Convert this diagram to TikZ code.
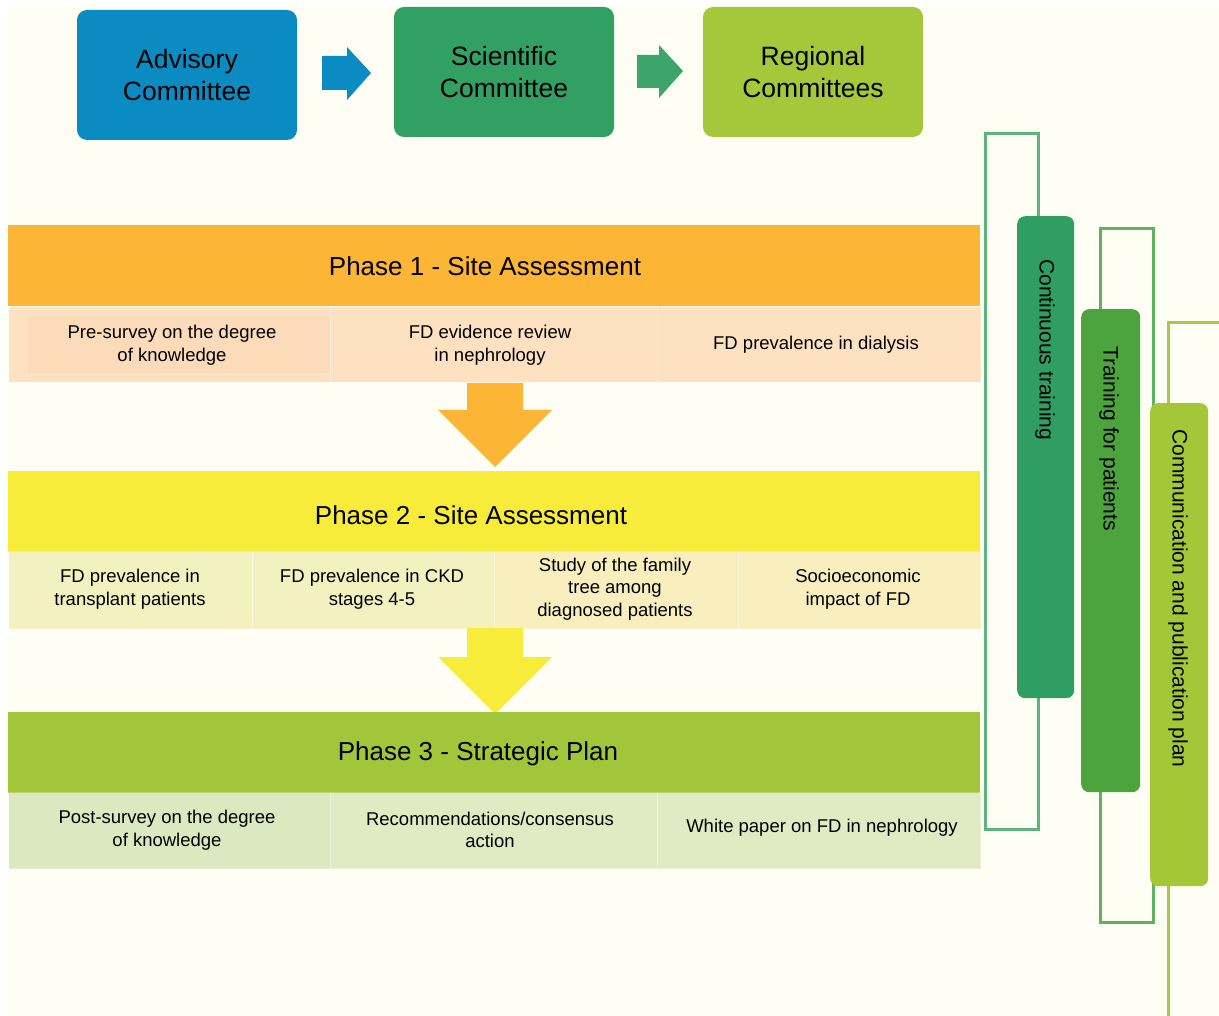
\documentclass[tikz,border=0pt]{standalone}
\usepackage{fontspec}
\setmainfont{Liberation Sans}
\definecolor{bgcream}{HTML}{FEFEF4}
\definecolor{advblue}{HTML}{0A8CC2}
\definecolor{scigreen}{HTML}{33A063}
\definecolor{reggreen}{HTML}{A5C83A}
\definecolor{pone}{HTML}{FCB535}
\definecolor{ponerow}{HTML}{FDE1C0}
\definecolor{poneinner}{HTML}{FCDBBA}
\definecolor{ptwo}{HTML}{F8EC3B}
\definecolor{ptworow}{HTML}{F4F1C0}
\definecolor{ptworowb}{HTML}{F8EEBE}
\definecolor{pthree}{HTML}{A2C63A}
\definecolor{pthreerow}{HTML}{E1EBC3}
\definecolor{pthreerowb}{HTML}{DCE8C0}
\definecolor{ctbar}{HTML}{2F9E63}
\definecolor{ctline}{HTML}{5DB47E}
\definecolor{tpbar}{HTML}{4DA43F}
\definecolor{tpline}{HTML}{5DB45E}
\definecolor{cpbar}{HTML}{A3C736}
\definecolor{cpline}{HTML}{A6CB4A}
\begin{document}
\begin{tikzpicture}[x=1pt,y=-1pt,
  committee/.style={rounded corners=10pt, inner sep=0pt, minimum width=220pt, minimum height=130pt,
     align=center, font=\fontsize{26.5}{32}\selectfont},
  header/.style={inner sep=0pt, minimum width=972pt, minimum height=81pt},
  headtext/.style={inner sep=0pt, font=\fontsize{26}{30}\selectfont},
  cell/.style={inner sep=0pt, align=center, font=\fontsize{18.5}{22.5}\selectfont},
  cellbox/.style={inner sep=0pt, draw=white, draw opacity=0.25, line width=1pt},
  bar/.style={rounded corners=8pt, inner sep=0pt},
  bartext/.style={inner sep=0pt, rotate=-90, anchor=west, font=\fontsize{21}{25}\selectfont},
  bracket/.style={line width=3pt, line join=miter, line cap=butt},
]
\useasboundingbox (0,0) rectangle (1219,1016);
\fill[white] (0,0) rectangle (1219,1016);
\fill[bgcream] (8,6) rectangle (1219,1016);

% ---------- committees ----------
\node[committee, fill=advblue] (adv) at (187,75) {Advisory\\Committee};
\node[committee, fill=scigreen] (sci) at (504,72) {Scientific\\Committee};
\node[committee, fill=reggreen] (reg) at (813,72) {Regional\\Committees};
\fill[advblue] (322,56) -- (347,56) -- (347,47) -- (371,73) -- (347,100) -- (347,90) -- (322,90) -- cycle;
\fill[scigreen!95!white] (637,55) -- (659,55) -- (659,45) -- (683,71) -- (659,98) -- (659,88) -- (637,88) -- cycle;

% ---------- phase 1 ----------
\node[header, fill=pone, anchor=north west] (ph1) at (8,225) {};
\node[headtext] (ph1t) at (485,266) {Phase 1 - Site Assessment};
\node[cellbox, fill=ponerow, minimum width=322pt, minimum height=75pt, anchor=north west] (c11) at (8,307) {};
\fill[poneinner] (28,317) rectangle (330,373);
\node[cellbox, fill=ponerow, minimum width=327pt, minimum height=75pt, anchor=north west] (c12) at (330,307) {};
\node[cellbox, fill=ponerow, minimum width=323pt, minimum height=75pt, anchor=north west] (c13) at (657,307) {};
\node[cell] (t11) at (172,345) {Pre-survey on the degree\\of knowledge};
\node[cell] (t12) at (490,345) {FD evidence review\\in nephrology};
\node[cell] (t13) at (816,345) {FD prevalence in dialysis};
\fill[pone] (467,383) -- (523,383) -- (523,410) -- (552,410) -- (495,467) -- (438,410) -- (467,410) -- cycle;

% ---------- phase 2 ----------
\node[header, fill=ptwo, anchor=north west] (ph2) at (8,471) {};
\node[headtext] (ph2t) at (471,515) {Phase 2 - Site Assessment};
\node[cellbox, fill=ptworow, minimum width=244pt, minimum height=77pt, anchor=north west] (c21) at (8,551) {};
\node[cellbox, fill=ptworow, minimum width=242pt, minimum height=77pt, anchor=north west] (c22) at (252,551) {};
\node[cellbox, fill=ptworowb, minimum width=244pt, minimum height=77pt, anchor=north west] (c23) at (494,551) {};
\node[cellbox, fill=ptworowb, minimum width=242pt, minimum height=77pt, anchor=north west] (c24) at (738,551) {};
\node[cell] (t21) at (130,589) {FD prevalence in\\transplant patients};
\node[cell] (t22) at (372,589) {FD prevalence in CKD\\stages 4-5};
\node[cell] (t23) at (615,589) {Study of the family\\tree among\\diagnosed patients};
\node[cell] (t24) at (858,589) {Socioeconomic\\impact of FD};
\fill[ptwo] (467,628) -- (523,628) -- (523,657) -- (552,657) -- (495,714) -- (438,657) -- (467,657) -- cycle;

% ---------- phase 3 ----------
\node[header, fill=pthree, anchor=north west] (ph3) at (8,712) {};
\node[headtext] (ph3t) at (478,754) {Phase 3 - Strategic Plan};
\node[cellbox, fill=pthreerowb, minimum width=322pt, minimum height=76pt, anchor=north west] (c31) at (8,792) {};
\node[cellbox, fill=pthreerow, minimum width=327pt, minimum height=76pt, anchor=north west] (c32) at (330,792) {};
\node[cellbox, fill=pthreerow, minimum width=323pt, minimum height=76pt, anchor=north west] (c33) at (657,792) {};
\node[cell] (t31) at (167,830) {Post-survey on the degree\\of knowledge};
\node[cell] (t32) at (490,830) {Recommendations/consensus\\action};
\node[cell] (t33) at (822,828) {White paper on FD in nephrology};

% ---------- brackets (behind the bars) ----------
\coordinate (b1s) at (1038,216);
\coordinate (b1a) at (1038,134);
\coordinate (b1b) at (985,134);
\coordinate (b1c) at (985,829);
\coordinate (b1d) at (1038,829);
\coordinate (b1e) at (1038,698);
\coordinate (b2s) at (1100,309);
\coordinate (b2a) at (1100,229);
\coordinate (b2b) at (1153,229);
\coordinate (b2c) at (1153,922);
\coordinate (b2d) at (1100,922);
\coordinate (b2e) at (1100,792);
\coordinate (b3s) at (1168,403);
\coordinate (b3a) at (1168,323);
\coordinate (b3b) at (1222,323);
\coordinate (b3e) at (1168,886);
\coordinate (b3c) at (1168,1020);

\draw[bracket, ctline] (b1s) -- (b1a) -- (b1b) -- (b1c) -- (b1d) -- (b1e);
\draw[bracket, tpline] (b2s) -- (b2a) -- (b2b) -- (b2c) -- (b2d) -- (b2e);
\draw[bracket, cpline] (b3s) -- (b3a) -- (b3b);
\draw[bracket, cpline] (b3e) -- (b3c);

% ---------- side bars ----------
\node[bar, fill=ctbar, minimum width=57pt, minimum height=482pt, anchor=north west] (ct) at (1017,216) {};
\node[bar, fill=tpbar, minimum width=59pt, minimum height=483pt, anchor=north west] (tp) at (1081,309) {};
\node[bar, fill=cpbar, minimum width=58pt, minimum height=483pt, anchor=north west] (cp) at (1150,403) {};
\node[bartext] (ctt) at (1045,259) {Continuous training};
\node[bartext] (tpt) at (1109,346) {Training for patients};
\node[bartext] (cpt) at (1178,429) {Communication and publication plan};
\end{tikzpicture}
\end{document}
